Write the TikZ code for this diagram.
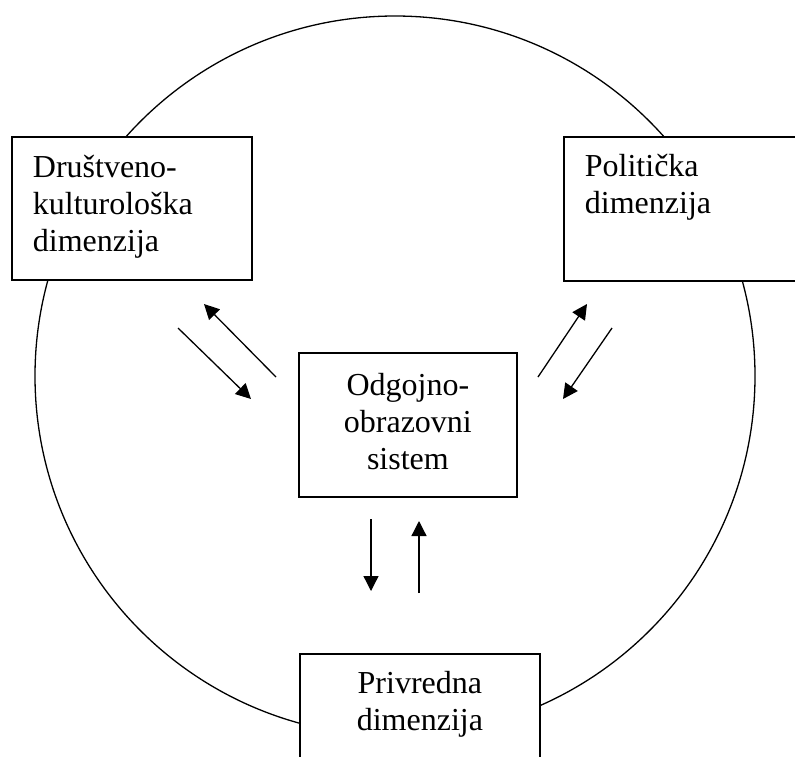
\documentclass[tikz,border=0pt]{standalone}
\usepackage{fontspec}
\setmainfont{Liberation Serif}
\usepackage{tikz}
\usetikzlibrary{arrows.meta,positioning}

\begin{document}
\begin{tikzpicture}[
    x=1pt, y=-1pt,
    font=\fontsize{32}{37}\selectfont,
    ring/.style={draw, circle, line width=1.3pt, minimum size=720pt, inner sep=0pt},
    box/.style={draw, line width=1.8pt, fill=white, anchor=north west, inner ysep=0pt},
    arrow/.style={-{Triangle[length=15pt, width=15pt]}, line width=1.3pt}
  ]
    \useasboundingbox (0,0) rectangle (795,756);
    \node[ring] (okvir) at (395,376) {};

    \node[box, align=left, inner xsep=21pt, text width=198pt, text height=41pt, text depth=102pt] (drustvena) at (11,136) {Društveno-\\kulturološka\\dimenzija};
    \node[box, align=left, inner xsep=21pt, text width=192pt, text height=40pt, text depth=104pt] (politicka) at (563,136) {Politička\\dimenzija};
    \node[box, align=center, inner xsep=0pt, text width=218pt, text height=43pt, text depth=101pt] (sistem) at (298,352) {Odgojno-\\obrazovni\\sistem};
    \node[box, align=center, inner xsep=0pt, text width=240pt, text height=40pt, text depth=65pt] (privreda) at (299,653) {Privredna\\dimenzija};

    % strelice
    \coordinate (kulA) at (178,328);
    \coordinate (kulB) at (251,399);
    \coordinate (kulC) at (276,377);
    \coordinate (kulD) at (204,304);
    \coordinate (polA) at (538,377);
    \coordinate (polB) at (587,304);
    \coordinate (polC) at (612,328);
    \coordinate (polD) at (563,399);
    \coordinate (priA) at (371,519);
    \coordinate (priB) at (371,591);
    \coordinate (priC) at (419,593);
    \coordinate (priD) at (419,521);

    \draw[arrow] (kulA) -- (kulB);
    \draw[arrow] (kulC) -- (kulD);
    \draw[arrow] (polA) -- (polB);
    \draw[arrow] (polC) -- (polD);
    \draw[arrow] (priA) -- (priB);
    \draw[arrow] (priC) -- (priD);
  \end{tikzpicture}
\end{document}
